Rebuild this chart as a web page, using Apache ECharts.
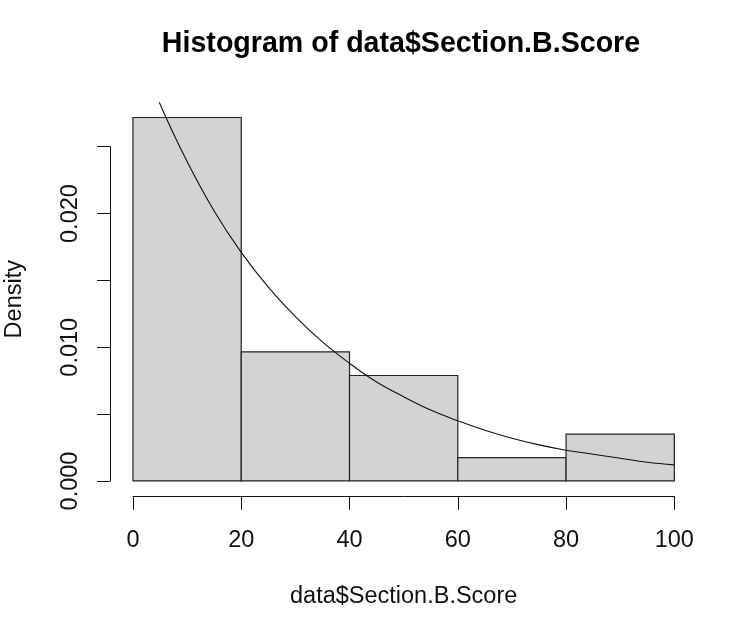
<!DOCTYPE html>
<html>
<head>
<meta charset="utf-8">
<title>Histogram of data$Section.B.Score</title>
<script src="https://cdn.jsdelivr.net/npm/echarts@6/dist/echarts.min.js"></script>
<style>
  html, body { margin: 0; padding: 0; background: #fff; }
  #chart { width: 733px; height: 621px; }
</style>
</head>
<body>
<div id="chart"></div>
<script>
// --- Histogram data (n = 57) ---
var binStarts = [0, 20, 40, 60, 80];
var binEnds = [20, 40, 60, 80, 100];
var densities = [0.02719, 0.00965, 0.00789, 0.00175, 0.00351];

// --- Overlaid density curve, sampled every 5 units ---
var curveX = [0, 5, 10, 15, 20, 25, 30, 35, 40, 45, 50, 55, 60, 65, 70, 75, 80, 85, 90, 95, 100];
var curveY = [0.0333, 0.0282, 0.0239, 0.0202, 0.0171, 0.0145, 0.0123, 0.0104, 0.0088, 0.0074, 0.0063,
              0.0053, 0.0045, 0.0038, 0.0032, 0.0027, 0.0023, 0.0020, 0.0017, 0.0014, 0.0012];

// --- Tick labels ---
var xTicks = [0, 20, 40, 60, 80, 100];
var yTickStep = 0.005;
var yLabelled = ['0.000', '0.010', '0.020'];

var FONT = '"Liberation Sans", Arial, sans-serif';
var INK = '#111';

var chart = echarts.init(document.getElementById('chart'), null, { renderer: 'canvas' });

var histData = binStarts.map(function(s, i) { return [s, binEnds[i], densities[i]]; });
var curveData = curveX.map(function(x, i) { return [x, curveY[i]]; });

var option = {
  animation: false,
  backgroundColor: '#fff',
  title: {
    text: 'Histogram of data$Section.B.Score',
    left: 396,
    top: 25,
    textAlign: 'center',
    textStyle: { fontFamily: FONT, fontSize: 28.6, fontWeight: 'bold', color: '#000' }
  },
  grid: [
    // plot region (R "usr" range), used for the marks
    { left: 111.3, right: 37, top: 102.9, bottom: 125.5, outerBoundsMode: 'none', containLabel: false },
    // tick range only, used for the detached R-style axes
    { left: 133, right: 58.7, top: 146.7, bottom: 140, outerBoundsMode: 'none', containLabel: false }
  ],
  xAxis: [
    {
      gridIndex: 0, type: 'value', min: -4, max: 104,
      axisLine: { show: false }, axisTick: { show: false },
      axisLabel: { show: false }, splitLine: { show: false }
    },
    {
      gridIndex: 1, type: 'value', min: 0, max: 100, interval: 20,
      position: 'bottom', offset: 15.7,
      name: 'data$Section.B.Score',
      nameLocation: 'middle',
      nameGap: 88,
      nameTextStyle: { fontFamily: FONT, fontSize: 23.5, color: INK },
      axisLine: { show: true, onZero: false, lineStyle: { color: INK, width: 1 } },
      axisTick: { show: true, length: 13, lineStyle: { color: INK, width: 1 } },
      axisLabel: {
        fontFamily: FONT, fontSize: 23.5, color: INK, margin: 32,
        formatter: function(v) { return xTicks.indexOf(v) >= 0 ? String(v) : ''; }
      },
      splitLine: { show: false }
    }
  ],
  yAxis: [
    {
      gridIndex: 0, type: 'value', min: -0.001088, max: 0.028281,
      name: 'Density',
      nameLocation: 'middle',
      nameGap: 84.5,
      nameTextStyle: { fontFamily: FONT, fontSize: 23.5, color: INK },
      axisLine: { show: false }, axisTick: { show: false },
      axisLabel: { show: false }, splitLine: { show: false }
    },
    {
      gridIndex: 1, type: 'value', min: 0, max: 0.025, interval: yTickStep,
      position: 'left', offset: 23,
      axisLine: { show: true, onZero: false, lineStyle: { color: INK, width: 1 } },
      axisTick: { show: true, length: 13, lineStyle: { color: INK, width: 1 } },
      axisLabel: {
        fontFamily: FONT, fontSize: 23.5, color: INK, rotate: 90, margin: 27,
        formatter: function(v) {
          var s = v.toFixed(3);
          return yLabelled.indexOf(s) >= 0 ? s : '';
        }
      },
      splitLine: { show: false }
    }
  ],
  series: [
    {
      type: 'custom',
      xAxisIndex: 0, yAxisIndex: 0,
      data: histData,
      renderItem: function(params, api) {
        var p0 = api.coord([api.value(0), 0]);
        var p1 = api.coord([api.value(1), api.value(2)]);
        return {
          type: 'rect',
          shape: { x: p0[0], y: p1[1], width: p1[0] - p0[0], height: p0[1] - p1[1] },
          style: { fill: '#d3d3d3', stroke: '#222', lineWidth: 1.2 }
        };
      }
    },
    {
      type: 'line',
      xAxisIndex: 0, yAxisIndex: 0,
      data: curveData,
      smooth: 0.4,
      symbol: 'none',
      clip: true,
      lineStyle: { color: '#111', width: 1.1 },
      z: 3
    }
  ]
};

chart.setOption(option);
</script>
</body>
</html>
